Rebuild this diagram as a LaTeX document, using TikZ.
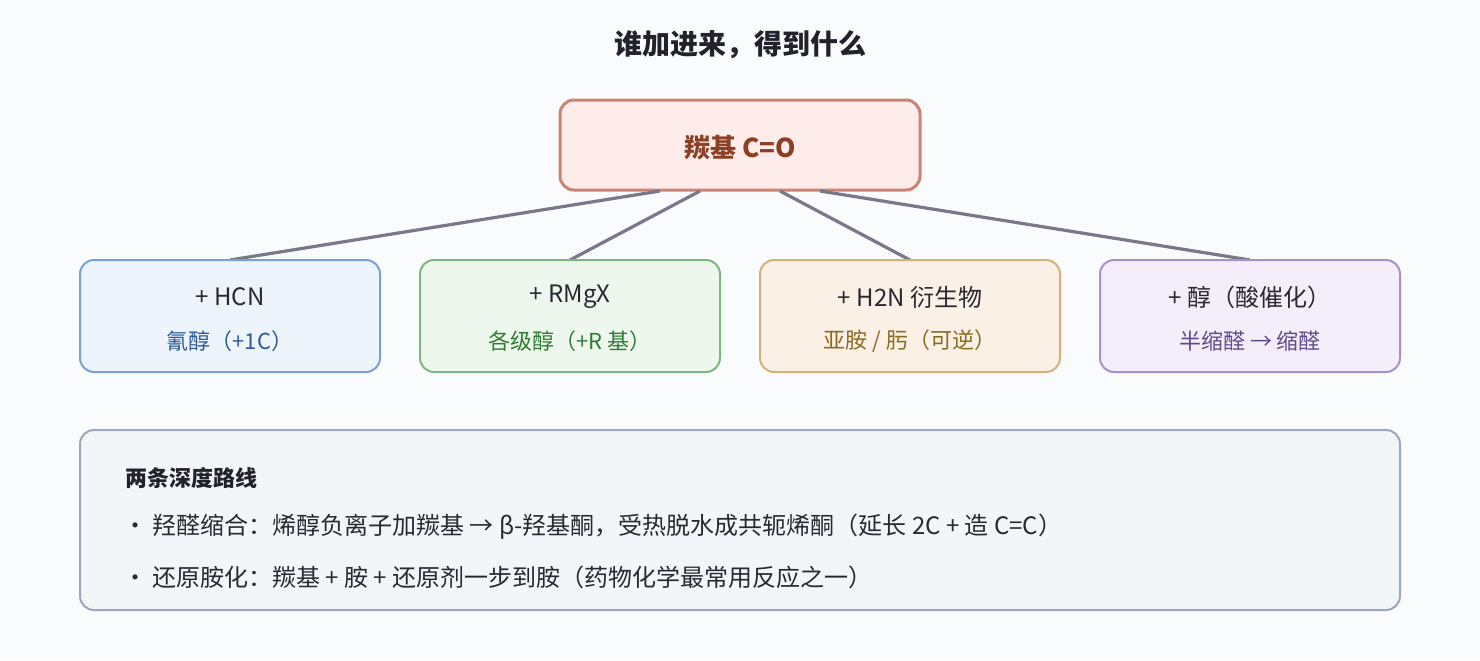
\documentclass[tikz,border=0pt]{standalone}
\usepackage{fontspec}
\setmainfont{Noto Sans CJK SC}
\begin{document}
\begin{tikzpicture}[x=0.5pt,y=-0.5pt,
  box/.style={rounded corners=7pt,line width=1pt},
  lnk/.style={draw=black!50!blue!20!gray,line width=1.6pt,color={rgb,255:red,120;green,120;blue,138}},
  main/.style={font=\fontsize{12}{14}\selectfont,text={rgb,255:red,40;green,40;blue,50}},
  sub/.style={font=\fontsize{11}{13}\selectfont}]
\definecolor{bg}{HTML}{FAFBFD}
\fill[bg] (0,0) rectangle (1480,660);
\useasboundingbox (0,0) rectangle (1480,660);
\node[font=\bfseries\fontsize{14}{16}\selectfont,text={rgb,255:red,34;green,34;blue,44}] (title) at (740,45) {谁加进来，得到什么};
\draw[box,line width=1.5pt,fill={rgb,255:red,253;green,236;blue,234},draw={rgb,255:red,201;green,132;blue,116}] (560,100) rectangle (920,190);
\node[font=\bfseries\fontsize{13}{15}\selectfont,text={rgb,255:red,139;green,64;blue,36}] (top) at (740,148) {羰基 C=O};
\coordinate (t1) at (660,191); \coordinate (t2) at (700,191); \coordinate (t3) at (780,191); \coordinate (t4) at (820,191);
\coordinate (b1) at (230,260); \coordinate (b2) at (570,260); \coordinate (b3) at (910,260); \coordinate (b4) at (1250,260);
\draw[lnk] (t1)--(b1); \draw[lnk] (t2)--(b2); \draw[lnk] (t3)--(b3); \draw[lnk] (t4)--(b4);
\draw[box,fill={rgb,255:red,238;green,244;blue,252},draw={rgb,255:red,124;green,159;blue,212}] (80,260) rectangle (380,372);
\draw[box,fill={rgb,255:red,238;green,247;blue,238},draw={rgb,255:red,125;green,182;blue,127}] (420,260) rectangle (720,372);
\draw[box,fill={rgb,255:red,250;green,240;blue,230},draw={rgb,255:red,210;green,178;blue,122}] (760,260) rectangle (1060,372);
\draw[box,fill={rgb,255:red,243;green,238;blue,249},draw={rgb,255:red,165;green,146;blue,200}] (1100,260) rectangle (1400,372);
\node[main] (a1) at (230,297) {+ HCN};
\node[sub,text={rgb,255:red,47;green,90;blue,154}] (s1) at (230,341) {氰醇（+1C）};
\node[main] (a2) at (570,297) {+ RMgX};
\node[sub,text={rgb,255:red,46;green,125;blue,50}] (s2) at (570,341) {各级醇（+R 基）};
\node[main] (a3) at (910,297) {+ H2N 衍生物};
\node[sub,text={rgb,255:red,138;green,106;blue,30}] (s3) at (910,341) {亚胺 / 肟（可逆）};
\node[main] (a4) at (1250,297) {+ 醇（酸催化）};
\node[sub,text={rgb,255:red,94;green,74;blue,138}] (s4) at (1250,341) {半缩醛 → 缩醛};
\draw[box,fill={rgb,255:red,243;green,246;blue,249},draw={rgb,255:red,154;green,168;blue,186}] (80,430) rectangle (1400,610);
\node[anchor=west,font=\bfseries\fontsize{11}{13}\selectfont,text={rgb,255:red,34;green,34;blue,44}] (h) at (118,478) {两条深度路线};
\node[anchor=west,main] (l1) at (116,527) {· 羟醛缩合：烯醇负离子加羰基 → β-羟基酮，受热脱水成共轭烯酮（延长 2C + 造 C=C）};
\node[anchor=west,main] (l2) at (116,577) {· 还原胺化：羰基 + 胺 + 还原剂一步到胺（药物化学最常用反应之一）};
\end{tikzpicture}
\end{document}
